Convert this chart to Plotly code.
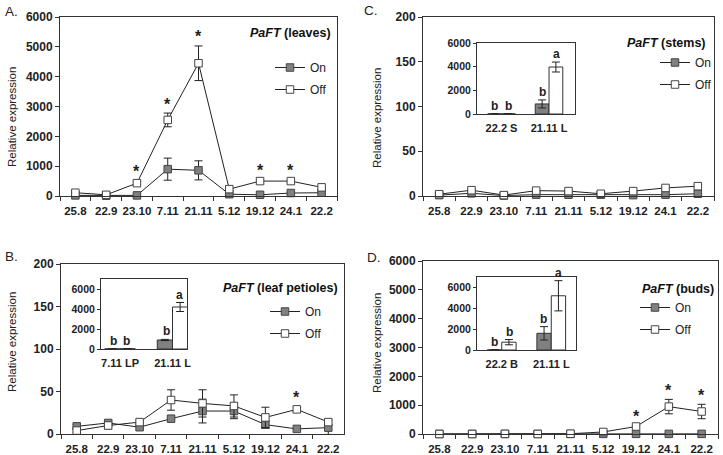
import plotly.graph_objects as go

FONT = "Liberation Sans, Arial, sans-serif"
LINE = "#333333"
GRAY = "#808080"

# ---------------- data ----------------
cats = ["25.8", "22.9", "23.10", "7.11", "21.11", "5.12", "19.12", "24.1", "22.2"]

# A: leaves
A_on = [20, 10, 20, 900, 860, 60, 40, 100, 110]
A_on_err = [10, 5, 10, 370, 320, 20, 15, 30, 30]
A_off = [110, 40, 430, 2550, 4450, 230, 500, 500, 290]
A_off_err = [40, 10, 80, 230, 580, 30, 40, 40, 30]
A_stars = ["23.10", "7.11", "21.11", "19.12", "24.1"]

# C: stems
C_on = [1, 3, 0.5, 1.5, 1.5, 1.5, 1, 1.5, 2.5]
C_on_err = [0.5, 1, 0.3, 0.5, 0.5, 0.5, 0.5, 0.8, 3]
C_off = [2, 6.5, 1, 6, 5.5, 2.5, 5.5, 9, 11]
C_off_err = [0.5, 1, 0.3, 1, 1, 0.5, 1, 1, 2]
C_stars = []

# B: leaf petioles
B_on = [9, 13, 8, 18, 27, 27, 11, 6, 7.5]
B_on_err = [2, 3, 1, 2, 14, 9, 4, 1, 8]
B_off = [4, 10, 14, 40, 36, 33, 19.5, 29, 14]
B_off_err = [2, 4, 2, 12, 16, 13, 12, 3, 3]
B_stars = ["24.1"]

# D: buds
D_on = [2, 2, 2, 2, 2, 5, 5, 5, 5]
D_on_err = [0, 0, 0, 0, 0, 0, 0, 0, 0]
D_off = [0, 0, 5, 0, 10, 70, 260, 950, 780]
D_off_err = [0, 0, 0, 0, 0, 10, 30, 250, 250]
D_stars = ["19.12", "24.1", "22.2"]

# insets
C_in_cats = ["22.2 S", "21.11 L"]
C_in_on = [10, 850]
C_in_on_err = [5, 340]
C_in_off = [15, 3970]
C_in_off_err = [5, 420]

B_in_cats = ["7.11 LP", "21.11 L"]
B_in_on = [10, 900]
B_in_on_err = [0, 60]
B_in_off = [20, 4200]
B_in_off_err = [5, 450]

D_in_cats = ["22.2 B", "21.11 L"]
D_in_on = [10, 1600]
D_in_on_err = [5, 640]
D_in_off = [750, 5200]
D_in_off_err = [250, 1450]

in_on_letters = ["b", "b"]
in_off_letters = ["b", "a"]

W, H = 723, 455


def px(x):
    return x / W


def py(y):
    return 1 - y / H


fig = go.Figure()
annotations = []

panels = [
    ("A", "x", "y", A_on, A_on_err, A_off, A_off_err, A_stars, "legend", "(leaves)", 6000, 1000),
    ("C", "x2", "y2", C_on, C_on_err, C_off, C_off_err, C_stars, "legend2", "(stems)", 200, 50),
    ("B", "x3", "y3", B_on, B_on_err, B_off, B_off_err, B_stars, "legend3", "(leaf petioles)", 200, 50),
    ("D", "x4", "y4", D_on, D_on_err, D_off, D_off_err, D_stars, "legend4", "(buds)", 6000, 1000),
]

for name, xa, ya, on, on_e, off, off_e, stars, leg, ttl, rmax, dt in panels:
    fig.add_trace(go.Scatter(
        x=cats, y=on, xaxis=xa, yaxis=ya, mode="lines+markers", name="On",
        line=dict(color="#222222", width=1),
        marker=dict(symbol="square", size=7.5, color=GRAY, line=dict(color="#444444", width=1)),
        error_y=dict(type="data", array=on_e, color="#222222", thickness=1, width=4),
        legend=leg, legendgroup=name + "on", cliponaxis=False))
    fig.add_trace(go.Scatter(
        x=cats, y=off, xaxis=xa, yaxis=ya, mode="lines+markers", name="Off",
        line=dict(color="#222222", width=1),
        marker=dict(symbol="square", size=7.5, color="white", line=dict(color="#444444", width=1)),
        error_y=dict(type="data", array=off_e, color="#222222", thickness=1, width=4),
        legend=leg, legendgroup=name + "off", cliponaxis=False))
    for s in stars:
        i = cats.index(s)
        annotations.append(dict(
            x=i, y=off[i] + off_e[i], xref=xa, yref=ya, text="<b>*</b>", showarrow=False,
            yanchor="middle", yshift=9, font=dict(family=FONT, size=16, color="#222222")))

# insets
insets = [
    ("x5", "y5", C_in_cats, C_in_on, C_in_on_err, C_in_off, C_in_off_err, 7),
    ("x6", "y6", B_in_cats, B_in_on, B_in_on_err, B_in_off, B_in_off_err, 6.5),
    ("x7", "y7", D_in_cats, D_in_on, D_in_on_err, D_in_off, D_in_off_err, 7.5),
]
for xa, ya, ic, ion, ion_e, ioff, ioff_e, sh in insets:
    fig.add_trace(go.Bar(
        x=ic, y=ion, xaxis=xa, yaxis=ya, showlegend=False,
        marker=dict(color=GRAY, line=dict(color="#333333", width=1)),
        error_y=dict(type="data", array=ion_e, color="#222222", thickness=1, width=4)))
    fig.add_trace(go.Bar(
        x=ic, y=ioff, xaxis=xa, yaxis=ya, showlegend=False,
        marker=dict(color="white", line=dict(color="#333333", width=1)),
        error_y=dict(type="data", array=ioff_e, color="#222222", thickness=1, width=4)))
    for j, c in enumerate(ic):
        annotations.append(dict(x=j, y=ion[j] + ion_e[j], xref=xa, yref=ya, text="<b>%s</b>" % in_on_letters[j],
                                showarrow=False, yanchor="bottom", xshift=-sh, yshift=-1,
                                font=dict(family=FONT, size=12, color="#222222")))
        annotations.append(dict(x=j, y=ioff[j] + ioff_e[j], xref=xa, yref=ya, text="<b>%s</b>" % in_off_letters[j],
                                showarrow=False, yanchor="bottom", xshift=sh, yshift=-1,
                                font=dict(family=FONT, size=12, color="#222222")))

main_dom = {
    "A": ([px(60), px(337)], [py(196), py(17)]),
    "C": ([px(423), px(714)], [py(196), py(17)]),
    "B": ([px(61), px(344)], [py(434), py(264)]),
    "D": ([px(423), px(718)], [py(434), py(261)]),
}
axis_ids = {"A": ("xaxis", "yaxis", "y", "x"), "C": ("xaxis2", "yaxis2", "y2", "x2"),
            "B": ("xaxis3", "yaxis3", "y3", "x3"), "D": ("xaxis4", "yaxis4", "y4", "x4")}

layout = dict(
    width=W, height=H, margin=dict(l=0, r=0, t=0, b=0, autoexpand=False),
    paper_bgcolor="white", plot_bgcolor="white",
    font=dict(family=FONT, color="#222222"),
    barmode="group", showlegend=True,
)

for name, xa, ya, on, on_e, off, off_e, stars, leg, ttl, rmax, dt in panels:
    xk, yk, yanchor_id, xanchor_id = axis_ids[name]
    xd, yd = main_dom[name]
    layout[xk] = dict(domain=xd, anchor=yanchor_id, type="category", categoryorder="array",
                      categoryarray=cats, range=[-0.5, 8.5], tickson="boundaries", tickangle=0,
                      ticks="outside", ticklen=4, tickcolor=LINE, showline=True, linecolor=LINE,
                      linewidth=1, mirror=True, showgrid=False, zeroline=False, automargin=False,
                      ticklabelstandoff=4,
                      tickfont=dict(family=FONT, size=11.5, weight="bold", color="#222222"))
    layout[yk] = dict(domain=yd, anchor=xanchor_id, range=[0, rmax], dtick=dt, ticks="outside",
                      ticklen=4, tickcolor=LINE, showline=True, linecolor=LINE, linewidth=1,
                      mirror=True, showgrid=False, zeroline=False, automargin=False,
                      tickfont=dict(family=FONT, size=12, weight="bold", color="#222222"))

inset_dom = {
    "x5": ([px(477), px(575)], [py(114), py(43)], [-0.516, 1.547], 6000),
    "x6": ([px(101), px(187)], [py(349), py(279)], [-0.362, 1.276], 7000),
    "x7": ([px(477), px(576)], [py(350), py(277)], [-0.5, 1.5], 7000),
}
for xa, ya, ic, *_ in insets:
    xd, yd, xr, ymax = inset_dom[xa]
    n = xa[1:]
    layout["xaxis" + n] = dict(domain=xd, anchor="y" + n, type="category", range=xr, tickangle=0,
                               ticks="outside", ticklen=4, tickcolor="rgba(0,0,0,0)",
                               showline=True, linecolor=LINE, linewidth=1, mirror=True,
                               showgrid=False, zeroline=False, automargin=False,
                               tickfont=dict(family=FONT, size=11, weight="bold", color="#222222"))
    layout["yaxis" + n] = dict(domain=yd, anchor="x" + n, range=[0, ymax], tickvals=[0, 2000, 4000, 6000],
                               ticks="outside", ticklen=3, tickcolor=LINE, showline=True,
                               linecolor=LINE, linewidth=1, mirror=True, showgrid=False,
                               zeroline=False, automargin=False,
                               tickfont=dict(family=FONT, size=10.5, weight="bold", color="#222222"))
layout["bargap"] = 0.42
layout["bargroupgap"] = 0

# (text-left x, On-item centre y) in pixels
leg_pos = {"legend": (310, 67), "legend2": (695, 62), "legend3": (305, 311), "legend4": (675, 307)}
for k, (tx, cy) in leg_pos.items():
    layout[k] = dict(x=px(tx - 40), y=py(cy - 14), xanchor="left", yanchor="top",
                     bgcolor="rgba(0,0,0,0)", itemwidth=30, tracegroupgap=3,
                     traceorder="grouped", font=dict(family=FONT, size=12, color="#222222"))

# titles
titles = [("(leaves)", 333, 33), ("(stems)", 708, 43), ("(leaf petioles)", 340, 288), ("(buds)", 716, 289)]
for t, rx, cy in titles:
    annotations.append(dict(x=px(rx), y=py(cy), xref="paper", yref="paper", xanchor="right",
                            yanchor="middle", showarrow=False, text="<b><i>PaFT</i> %s</b>" % t,
                            font=dict(family=FONT, size=12.5, color="#111111")))

# y-axis titles
for cx, cy in [(12, 117), (377, 118), (12, 342), (377, 343)]:
    annotations.append(dict(x=px(cx), y=py(cy), xref="paper", yref="paper", xanchor="center",
                            yanchor="middle", showarrow=False, text="Relative expression",
                            textangle=-90, font=dict(family=FONT, size=11.5, color="#222222")))

# panel labels
for lab, lx, ly in [("A.", 3, 11), ("C.", 362, 10), ("B.", 3, 256), ("D.", 365, 257)]:
    annotations.append(dict(x=px(lx), y=py(ly), xref="paper", yref="paper", xanchor="left",
                            yanchor="middle", showarrow=False, text=lab,
                            font=dict(family=FONT, size=13.5, color="#222222")))

layout["annotations"] = annotations
fig.update_layout(**layout)

fig.write_html("out.html", config={"displayModeBar": False},
               post_script="document.body.style.margin='0';document.body.style.overflow='hidden';")
